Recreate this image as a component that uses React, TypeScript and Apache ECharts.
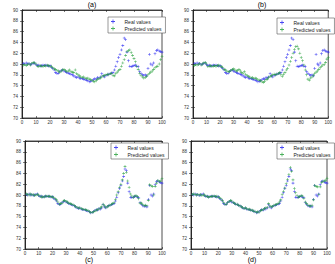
import React, { useEffect, useRef } from "react";
import * as echarts from "echarts";

// Observed series (time steps 1..100)
const realValues = [
  80.1, 80.0, 80.2, 80.0, 80.1, 79.9, 80.0, 80.1, 80.2, 79.9,
  79.7, 79.8, 79.6, 79.7, 79.8, 79.7, 79.8, 79.7, 79.6, 79.7,
  79.4, 79.2, 78.9, 78.4, 78.2, 78.3, 78.6, 78.8, 78.9, 78.7,
  78.6, 78.4, 78.3, 78.2, 78.1, 78.0, 77.8, 77.6, 77.5, 77.6,
  77.4, 77.3, 77.3, 77.2, 77.1, 77.0, 76.9, 76.7, 76.8, 76.9,
  77.1, 77.3, 77.2, 77.5, 77.4, 77.6, 78.2, 77.8, 77.6, 77.9,
  78.0, 78.1, 78.2, 78.3, 78.4, 78.9, 79.6, 80.4, 81.2, 81.8,
  82.6, 83.4, 84.8, 84.5, 82.2, 80.6, 79.6, 79.5, 79.6, 79.7,
  79.8, 79.6, 79.5, 78.6, 78.3, 78.0, 77.9, 78.0, 77.8, 79.2,
  81.8, 80.0, 79.8, 80.2, 81.9, 82.5, 82.6, 82.4, 82.3, 82.2,
];

// Model outputs, one per panel
const predictedA = [
  79.8, 79.9, 79.7, 79.9, 80.0, 79.8, 80.1, 80.3, 80.2, 80.0,
  79.6, 79.5, 79.7, 79.6, 79.5, 79.7, 79.6, 79.8, 79.7, 79.5,
  79.6, 79.3, 79.1, 79.0, 78.8, 78.7, 78.5, 78.7, 78.9, 79.0,
  78.8, 78.6, 78.7, 78.9, 78.6, 78.5, 78.4, 78.9, 78.2, 78.0,
  77.8, 77.6, 77.5, 77.6, 77.4, 77.3, 77.4, 77.2, 77.1, 77.0,
  76.8, 76.7, 76.9, 77.2, 77.3, 77.4, 77.6, 77.8, 77.9, 78.0,
  78.1, 78.0, 78.2, 78.3, 77.9, 77.8, 78.2, 78.5, 78.8, 79.0,
  79.6, 80.2, 80.8, 81.6, 82.3, 82.5, 82.6, 82.1, 81.6, 81.0,
  80.4, 79.6, 79.0, 78.3, 77.9, 77.6, 77.4, 77.5, 77.7, 78.0,
  78.3, 78.5, 78.7, 79.0, 79.3, 79.5, 79.6, 80.0, 80.8, 81.4,
];

const predictedB = [
  79.7, 79.9, 79.8, 79.9, 80.1, 79.8, 80.0, 80.2, 80.3, 80.0,
  79.5, 79.6, 79.7, 79.5, 79.6, 79.7, 79.5, 79.7, 79.8, 79.6,
  79.5, 79.4, 79.0, 78.9, 78.7, 78.6, 78.6, 78.8, 79.0, 79.1,
  78.9, 78.7, 78.8, 79.0, 78.7, 78.4, 78.3, 78.6, 78.1, 77.9,
  77.7, 77.6, 77.4, 77.5, 77.3, 77.4, 77.3, 77.1, 77.0, 76.9,
  76.7, 76.6, 76.8, 77.1, 77.2, 77.5, 77.7, 77.8, 78.0, 78.1,
  78.0, 78.1, 78.2, 78.4, 78.0, 77.7, 78.1, 78.4, 78.9, 79.2,
  79.8, 80.5, 81.2, 82.0, 82.7, 83.2, 83.3, 82.8, 82.0, 81.2,
  80.6, 79.8, 78.9, 78.0, 77.2, 77.0, 77.4, 77.6, 77.9, 78.2,
  78.5, 78.7, 79.0, 79.3, 79.6, 79.8, 79.9, 80.3, 80.9, 81.2,
];

const predictedC = [
  80.2, 80.1, 80.0, 80.2, 80.0, 80.1, 79.9, 80.0, 80.1, 80.0,
  79.8, 79.6, 79.7, 79.6, 79.8, 79.8, 79.7, 79.8, 79.7, 79.6,
  79.6, 79.3, 79.1, 78.7, 78.3, 78.4, 78.5, 78.9, 79.0, 78.8,
  78.7, 78.5, 78.4, 78.3, 78.2, 78.0, 77.9, 77.7, 77.6, 77.6,
  77.5, 77.4, 77.3, 77.3, 77.2, 77.1, 76.9, 76.8, 76.8, 76.9,
  77.0, 77.2, 77.3, 77.4, 77.6, 77.8, 78.3, 78.0, 77.7, 77.8,
  78.0, 78.1, 78.3, 78.4, 78.6, 79.2, 80.0, 80.6, 81.4, 82.0,
  82.8, 84.0, 85.3, 84.2, 82.6, 81.4, 80.2, 79.8, 79.5, 79.8,
  79.9, 79.7, 79.3, 78.5, 78.5, 78.2, 78.0, 78.1, 78.0, 79.0,
  81.9, 81.7, 81.6, 80.0, 81.6, 82.2, 82.7, 82.5, 82.6, 83.0,
];

const predictedD = [
  80.1, 80.2, 80.1, 80.0, 80.1, 80.0, 80.1, 79.9, 80.0, 80.0,
  79.8, 79.7, 79.6, 79.7, 79.7, 79.8, 79.8, 79.7, 79.8, 79.6,
  79.5, 79.3, 79.0, 78.6, 78.3, 78.3, 78.6, 78.8, 79.0, 78.9,
  78.6, 78.5, 78.3, 78.3, 78.1, 78.0, 77.8, 77.7, 77.5, 77.6,
  77.5, 77.3, 77.4, 77.2, 77.2, 77.0, 77.0, 76.8, 76.9, 76.8,
  77.1, 77.2, 77.3, 77.5, 77.6, 77.7, 78.4, 78.0, 77.8, 77.9,
  78.1, 78.2, 78.2, 78.4, 78.7, 79.1, 80.1, 80.7, 81.3, 82.1,
  82.9, 83.8, 85.1, 84.4, 82.8, 81.2, 80.4, 79.9, 79.6, 79.7,
  79.9, 79.8, 79.4, 78.7, 78.4, 78.1, 78.0, 77.9, 78.1, 79.1,
  81.8, 81.6, 81.5, 80.1, 81.5, 82.3, 82.5, 82.6, 82.7, 83.1,
];

const panelLabels = ["(a)", "(b)", "(c)", "(d)"];
const predictions = [predictedA, predictedB, predictedC, predictedD];
const xTicks = { min: 0, max: 100, interval: 10 };
const yTicks = { min: 70, max: 90, interval: 2 };

const REAL_NAME = "Real values";
const PRED_NAME = "Predicted values";
const BLUE = "#1c1cf0";
const GREEN = "#1f9e35";
const FONT = "'Liberation Sans', Arial, sans-serif";
const PLUS = "path://M4,0h2v4h4v2h-4v4h-2v-4h-4v-2h4z";

// Plot boxes in pixels: left, top, width, height
const boxes = [
  { left: 22, top: 10, width: 140, height: 108 },
  { left: 193, top: 10, width: 139, height: 108 },
  { left: 25, top: 141, width: 137, height: 108 },
  { left: 191, top: 141, width: 136, height: 108 },
];

const legendPos = [
  { left: 108, top: 17 },
  { left: 277, top: 18 },
  { left: 111, top: 143 },
  { left: 277, top: 143 },
];

// Panel tag placement: above the plot for the top row, below for the bottom row
const tagPos = [
  { x: 92, y: 4 },
  { x: 262, y: 4 },
  { x: 89, y: 259 },
  { x: 252, y: 259 },
];

export default function App() {
  const ref = useRef<HTMLDivElement>(null);

  useEffect(() => {
    if (!ref.current) return;
    const chart = echarts.init(ref.current, null, { renderer: "svg" });

    const grid: any[] = [];
    const xAxis: any[] = [];
    const yAxis: any[] = [];
    const series: any[] = [];
    const legend: any[] = [];
    const graphic: any[] = [];

    const axisLine = { show: true, lineStyle: { color: "#222", width: 0.8 } };
    const labelStyle = { fontSize: 4.5, color: "#333", fontFamily: FONT };

    boxes.forEach((b, p) => {
      grid.push({ ...b, containLabel: false, show: true, borderColor: "#222", borderWidth: 0.8 });

      // bottom + top x axes, left + right y axes (ticks on all four sides)
      xAxis.push({
        type: "value", gridIndex: p, position: "bottom", ...xTicks,
        axisLine, splitLine: { show: false },
        axisTick: { inside: true, length: 2, lineStyle: { color: "#222", width: 0.6 } },
        axisLabel: { ...labelStyle, margin: 2 },
      });
      xAxis.push({
        type: "value", gridIndex: p, position: "top", ...xTicks,
        axisLine, splitLine: { show: false },
        axisTick: { inside: true, length: 2, lineStyle: { color: "#222", width: 0.6 } },
        axisLabel: { show: false },
      });
      yAxis.push({
        type: "value", gridIndex: p, position: "left", ...yTicks,
        axisLine, splitLine: { show: false },
        axisTick: { inside: true, length: 2, lineStyle: { color: "#222", width: 0.6 } },
        axisLabel: { ...labelStyle, margin: 4 },
      });
      yAxis.push({
        type: "value", gridIndex: p, position: "right", ...yTicks,
        axisLine, splitLine: { show: false },
        axisTick: { inside: true, length: 2, lineStyle: { color: "#222", width: 0.6 } },
        axisLabel: { show: false },
      });

      series.push({
        type: "scatter", name: REAL_NAME, xAxisIndex: 2 * p, yAxisIndex: 2 * p,
        symbol: PLUS, symbolSize: 2.8, itemStyle: { color: BLUE },
        data: realValues.map((v, i) => [i + 1, v]),
      });
      series.push({
        type: "scatter", name: PRED_NAME, xAxisIndex: 2 * p, yAxisIndex: 2 * p,
        symbol: PLUS, symbolSize: 2.8, itemStyle: { color: GREEN },
        data: predictions[p].map((v, i) => [i + 1, v]),
      });

      legend.push({
        ...legendPos[p], orient: "vertical", data: [REAL_NAME, PRED_NAME],
        itemWidth: 5, itemHeight: 4, itemGap: 2,
        padding: [2, 4, 2, 3], borderColor: "#555", borderWidth: 0.6,
        backgroundColor: "#fff",
        textStyle: { fontSize: 5, color: "#222", fontFamily: FONT, padding: [0, 0, 0, 4] },
      });

      graphic.push({
        type: "text", x: tagPos[p].x, y: tagPos[p].y,
        style: {
          text: panelLabels[p], fontSize: 7, fill: "#000", fontFamily: FONT,
          align: "center", verticalAlign: "middle",
        },
      });
    });

    chart.setOption({
      animation: false,
      backgroundColor: "#fff",
      grid, xAxis, yAxis, series, legend, graphic,
    });

    return () => chart.dispose();
  }, []);

  return (
    <div
      ref={ref}
      style={{ position: "absolute", left: 0, top: 0, width: 335, height: 264 }}
    />
  );
}
